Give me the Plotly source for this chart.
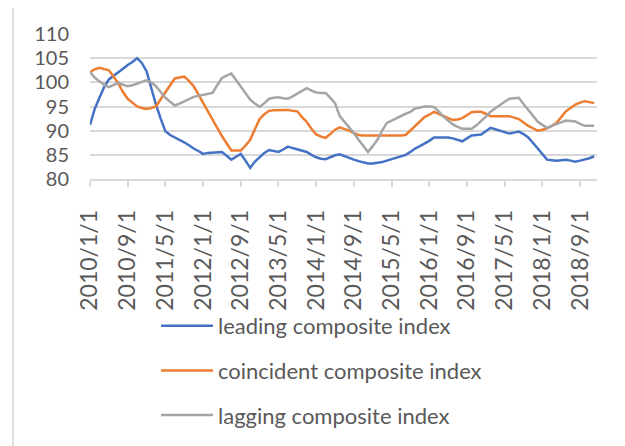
import plotly.graph_objects as go
import pandas as pd

months = pd.date_range("2010-01-01", "2018-12-01", freq="MS")
month_labels = [f"{d.year}/{d.month}/1" for d in months]

leading = [91.2, 94.5, 96.8, 99.0, 100.6, 101.3, 102.0, 102.8, 103.6, 104.2,
           105.0, 104.0, 102.3, 98.8, 95.4, 92.5, 89.9, 89.1, 88.6, 88.2,
           87.6, 87.0, 86.3, 85.8, 85.2, 85.4, 85.5, 85.5, 85.6, 84.8,
           84.0, 84.6, 85.2, 83.8, 82.3, 83.6, 84.6, 85.4, 86.0, 85.8,
           85.6, 86.1, 86.7, 86.4, 86.1, 85.8, 85.6, 85.0, 84.5, 84.2,
           84.1, 84.5, 84.9, 85.1, 84.7, 84.3, 84.0, 83.7, 83.4, 83.2,
           83.2, 83.3, 83.5, 83.8, 84.1, 84.4, 84.7, 85.0, 85.6, 86.3,
           86.8, 87.3, 87.9, 88.6, 88.6, 88.6, 88.6, 88.4, 88.1, 87.8,
           88.4, 89.0, 89.1, 89.2, 89.9, 90.6, 90.3, 90.0, 89.7, 89.4,
           89.6, 89.8, 89.3, 88.6, 87.5, 86.4, 85.1, 84.0, 83.9, 83.8,
           83.9, 84.0, 83.8, 83.6, 83.8, 84.0, 84.3, 84.7]

coincident = [102.1, 102.7, 103.0, 102.8, 102.5, 101.2, 99.8, 98.0, 96.6, 95.8,
              95.0, 94.7, 94.5, 94.7, 95.0, 96.5, 98.0, 99.5, 100.8, 101.0,
              101.2, 100.3, 99.2, 97.5, 95.7, 94.0, 92.4, 90.6, 88.9, 87.3,
              85.9, 85.9, 85.9, 86.9, 88.1, 90.3, 92.4, 93.4, 94.1, 94.2,
              94.2, 94.2, 94.3, 94.1, 94.0, 92.8, 91.8, 90.4, 89.2, 88.8,
              88.5, 89.3, 90.2, 90.7, 90.4, 90.0, 89.5, 89.1, 89.0, 89.0,
              89.0, 89.0, 88.9, 88.9, 88.9, 88.9, 89.0, 89.1, 90.0, 90.9,
              91.9, 92.8, 93.3, 93.9, 93.5, 93.0, 92.6, 92.2, 92.3, 92.6,
              93.2, 93.8, 93.9, 93.9, 93.5, 93.0, 93.0, 93.0, 93.0, 93.0,
              92.7, 92.4, 91.7, 91.0, 90.5, 90.0, 90.2, 90.5, 91.0, 91.6,
              92.8, 94.0, 94.7, 95.4, 95.8, 96.1, 95.9, 95.7]

lagging = [102.1, 101.0, 100.2, 99.5, 99.0, 99.4, 99.9, 99.5, 99.2, 99.4,
           99.7, 100.0, 100.4, 100.0, 99.2, 98.0, 96.8, 96.0, 95.2, 95.6,
           96.1, 96.5, 97.0, 97.2, 97.4, 97.6, 97.8, 99.4, 100.9, 101.4,
           101.8, 100.5, 99.2, 97.8, 96.4, 95.6, 94.9, 95.7, 96.6, 96.8,
           96.9, 96.7, 96.6, 97.1, 97.7, 98.3, 98.8, 98.3, 97.9, 97.8,
           97.8, 96.8, 95.7, 93.0, 91.9, 90.8, 89.5, 88.1, 86.8, 85.6,
           86.8, 88.1, 90.0, 91.6, 92.1, 92.6, 93.1, 93.5, 93.9, 94.6,
           94.8, 95.0, 95.0, 94.9, 94.0, 92.9, 92.1, 91.3, 90.8, 90.4,
           90.4, 90.4, 91.1, 91.9, 92.9, 93.9, 94.6, 95.4, 96.0, 96.6,
           96.7, 96.8, 95.5, 94.3, 93.1, 91.9, 91.2, 90.6, 91.0, 91.3,
           91.7, 92.1, 92.0, 91.9, 91.4, 91.0, 91.0, 91.0]

series_names = ["leading composite index", "coincident composite index", "lagging composite index"]
series_colors = ["#4472C4", "#ED7D31", "#A5A5A5"]

tick_step = 8
tick_idx = list(range(0, len(months), tick_step))
tick_text = [month_labels[i] for i in tick_idx]
y_ticks = [80, 85, 90, 95, 100, 105, 110]

FONT = "Lato"
TXT = "#595959"

fig = go.Figure()
xs = list(range(len(months)))
for i, (name, vals, col) in enumerate(zip(series_names, [leading, coincident, lagging], series_colors)):
    fig.add_trace(go.Scatter(
        x=xs, y=vals, mode="lines", name=name, legendgroup=f"g{i}",
        line=dict(color=col, width=2.5),
    ))

# page body has an 8px default margin
OFF = 8
W, H = 625 - OFF, 446 - OFF
# screen-pixel plot area: x 90..597, y 34..179
ml = 90 - OFF
mt = 34 - OFF
mr = W - (597 - OFF)
mb = H - (179 - OFF)
pw, ph = W - ml - mr, H - mt - mb

def px_x(p):
    return (p - OFF - ml) / pw

def px_y(p):
    return (H - mb - (p - OFF)) / ph

fig.update_layout(
    width=W, height=H,
    margin=dict(l=ml, r=mr, t=mt, b=mb, pad=0, autoexpand=False),
    paper_bgcolor="white", plot_bgcolor="white",
    font=dict(family=FONT, color=TXT, size=19),
    showlegend=True,
    legend=dict(
        x=px_x(156), y=px_y(305), xanchor="left", yanchor="top",
        orientation="v", tracegroupgap=13, itemwidth=52,
        font=dict(family=FONT, size=22, color=TXT),
        bgcolor="rgba(0,0,0,0)",
    ),
    xaxis=dict(
        range=[0, 107.6], tickmode="array", tickvals=tick_idx, ticktext=tick_text,
        tickangle=-90, showgrid=False, showline=True, linecolor="#D9D9D9", linewidth=1.5,
        ticks="outside", ticklen=6, tickcolor="#D9D9D9", tickwidth=1.5,
        tickfont=dict(family=FONT, size=23, color=TXT), zeroline=False,
        ticklabelstandoff=14, automargin=False,
    ),
    yaxis=dict(
        range=[80, 110], tickmode="array", tickvals=y_ticks,
        showgrid=True, gridcolor="#D9D9D9", gridwidth=1.5, zeroline=False,
        showline=False, ticks="", tickfont=dict(family=FONT, size=20, color=TXT),
        ticklabelstandoff=20, automargin=False,
    ),
    shapes=[
        dict(type="line", xref="paper", yref="paper", x0=px_x(13), x1=px_x(13),
             y0=px_y(6), y1=px_y(460), line=dict(color="#D9D9D9", width=1.5)),
        dict(type="line", xref="paper", yref="paper", x0=px_x(13), x1=px_x(640),
             y0=px_y(6), y1=px_y(6), line=dict(color="#D9D9D9", width=1.5)),
    ],
)

fig.write_html("out.html")
